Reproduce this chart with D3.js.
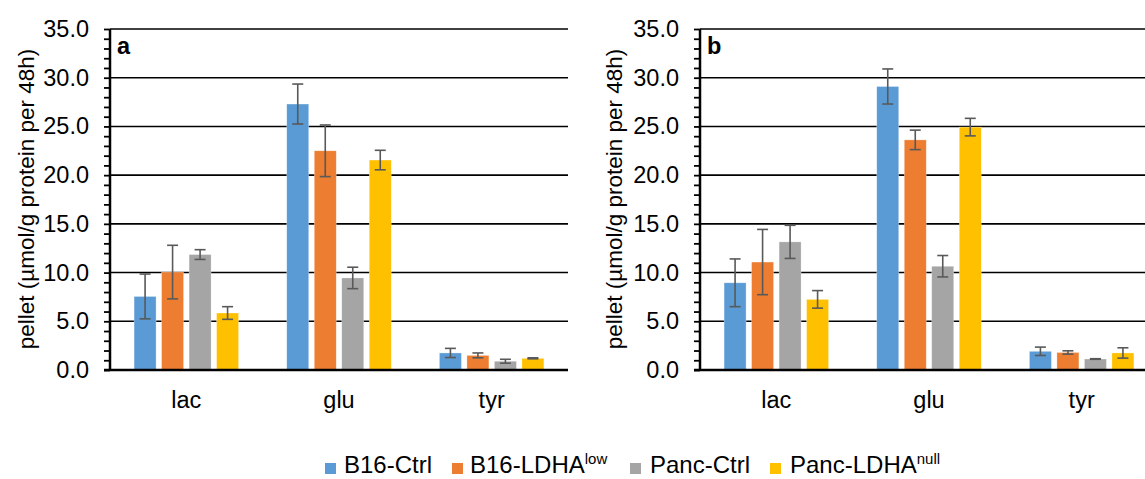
<!DOCTYPE html>
<html>
<head>
<meta charset="utf-8">
<script src="https://cdn.jsdelivr.net/npm/d3@7"></script>
<style>
  html, body { margin: 0; padding: 0; background: #fff; }
  svg { display: block; font-family: "Liberation Sans", Arial, sans-serif; }
</style>
</head>
<body>
<svg id="chart" width="1145" height="479"></svg>
<script>
// Metabolite categories and cell-line series
const categories = ["lac", "glu", "tyr"];
const seriesNames = ["B16-Ctrl", "B16-LDHA", "Panc-Ctrl", "Panc-LDHA"];
const seriesSup = ["", "low", "", "null"];
const seriesColors = ["#5B9BD5", "#ED7D31", "#A5A5A5", "#FFC000"];
const yTicks = [0, 5, 10, 15, 20, 25, 30, 35];

// Panel a: means and error (± SD) per series, ordered lac, glu, tyr
const aMeans = [
  [7.55, 27.3, 1.75],
  [10.05, 22.5, 1.5],
  [11.85, 9.45, 0.9],
  [5.85, 21.55, 1.2]
];
const aErrors = [
  [2.3, 2.05, 0.47],
  [2.75, 2.65, 0.25],
  [0.5, 1.1, 0.2],
  [0.65, 1.0, 0.05]
];

// Panel b
const bMeans = [
  [8.95, 29.1, 1.92],
  [11.08, 23.62, 1.8],
  [13.15, 10.65, 1.13],
  [7.25, 24.93, 1.75]
];
const bErrors = [
  [2.45, 1.8, 0.43],
  [3.35, 1.0, 0.17],
  [1.7, 1.1, 0.03],
  [0.9, 0.9, 0.53]
];

const FONT = 23.5;
const svg = d3.select("#chart");
const y = d3.scaleLinear().domain([0, 35]).range([370, 29]);

function drawPanel(x0, x1, letter, means, errors, labelX) {
  const g = svg.append("g");
  const x = d3.scaleBand().domain(categories).range([x0, x1]);
  const xs = d3.scaleBand().domain(d3.range(4)).range([-55, 55])
    .paddingInner(0.2).paddingOuter(0.1);

  // horizontal gridlines
  g.selectAll("line.grid").data(yTicks.filter(t => t > 0)).enter().append("line")
    .attr("x1", x0).attr("x2", x1)
    .attr("y1", d => y(d)).attr("y2", d => y(d))
    .attr("stroke", "#000").attr("stroke-width", 1.6);

  // bars
  means.forEach((vals, s) => {
    g.selectAll(null).data(vals).enter().append("rect")
      .attr("x", (d, i) => x(categories[i]) + x.bandwidth() / 2 + xs(s))
      .attr("y", d => y(d))
      .attr("width", xs.bandwidth())
      .attr("height", d => y(0) - y(d))
      .attr("fill", seriesColors[s])
      .attr("stroke", "#fff").attr("stroke-opacity", 0.5).attr("stroke-width", 0.6);
  });

  // error bars
  means.forEach((vals, s) => {
    vals.forEach((m, i) => {
      const cx = x(categories[i]) + x.bandwidth() / 2 + xs(s) + xs.bandwidth() / 2;
      const e = errors[s][i];
      const eg = g.append("g").attr("stroke", "#595959").attr("stroke-width", 1.6);
      eg.append("line").attr("x1", cx).attr("x2", cx).attr("y1", y(m + e)).attr("y2", y(m - e));
      [m + e, m - e].forEach(v => {
        eg.append("line").attr("x1", cx - 5.5).attr("x2", cx + 5.5).attr("y1", y(v)).attr("y2", y(v));
      });
    });
  });

  // y axis with minor ticks every 1.0
  const yAxis = d3.axisLeft(y).tickValues(d3.range(0, 35.01, 1))
    .tickSize(6).tickFormat(d => d % 5 === 0 ? d3.format(".1f")(d) : "");
  const ag = g.append("g").attr("transform", `translate(${x0},0)`).call(yAxis);
  ag.attr("font-size", null).attr("font-family", null);
  ag.select(".domain").attr("stroke", "#000").attr("stroke-width", 2.5)
    .attr("d", `M0,${y(35)}V${y(0) + 1}`);
  ag.selectAll(".tick line").attr("stroke", "#000").attr("stroke-width", 1.8);
  ag.selectAll(".tick text").attr("x", -21).attr("font-size", FONT).attr("fill", "#000");

  // baseline
  g.append("line").attr("x1", x0 - 6).attr("x2", x1).attr("y1", y(0)).attr("y2", y(0))
    .attr("stroke", "#000").attr("stroke-width", 2.5);

  // category labels
  g.selectAll("text.cat").data(categories).enter().append("text")
    .attr("x", d => x(d) + x.bandwidth() / 2).attr("y", 408)
    .attr("text-anchor", "middle").attr("font-size", FONT).attr("fill", "#000")
    .text(d => d);

  // panel letter
  g.append("text").attr("x", x0 + 7).attr("y", 54)
    .attr("font-size", FONT).attr("font-weight", "bold").text(letter);

  // y axis title
  g.append("text")
    .attr("transform", `translate(${labelX},199) rotate(-90)`)
    .attr("text-anchor", "middle").attr("font-size", 22.5).attr("fill", "#000")
    .text("pellet (µmol/g protein per 48h)");
}

drawPanel(110, 568, "a", aMeans, aErrors, 34);
drawPanel(700, 1158, "b", bMeans, bErrors, 622);

// legend
const legendSquareX = [325, 452, 630, 770];
const legendTextX = [344, 470, 650, 790];
const lg = svg.append("g");
seriesNames.forEach((name, i) => {
  lg.append("rect").attr("x", legendSquareX[i]).attr("y", 463).attr("width", 11).attr("height", 11)
    .attr("fill", seriesColors[i]);
  const t = lg.append("text").attr("x", legendTextX[i]).attr("y", 473)
    .attr("font-size", 24).attr("fill", "#000").text(name);
  if (seriesSup[i]) {
    t.append("tspan").attr("font-size", 15).attr("dy", -9).text(seriesSup[i]);
  }
});
</script>
</body>
</html>
